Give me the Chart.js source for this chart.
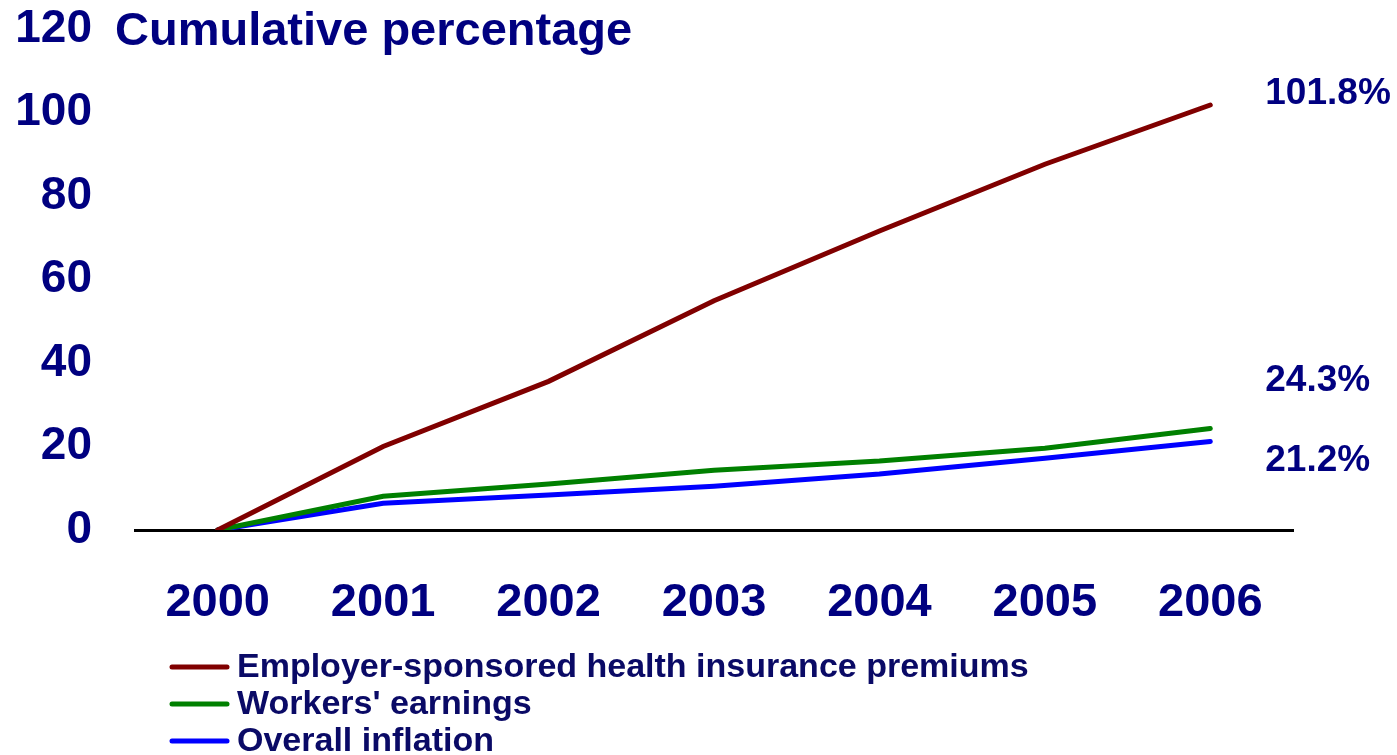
<!DOCTYPE html>
<html>
<head>
<meta charset="utf-8">
<script src="https://cdn.jsdelivr.net/npm/chart.js@4.4.0/dist/chart.umd.min.js"></script>
<style>
  html, body { margin: 0; padding: 0; background: #fff; }
  #wrap { width: 1397px; height: 755px; position: relative; }
</style>
</head>
<body>
<div id="wrap"><canvas id="myChart"></canvas></div>
<script>
// cumulative growth since 2000, in percent
const years = ['2000', '2001', '2002', '2003', '2004', '2005', '2006'];
const premiums = [0, 20.0, 35.6, 54.9, 71.6, 87.6, 101.8];
const earnings = [0, 8.1, 11.0, 14.3, 16.5, 19.6, 24.3];
const inflation = [0, 6.4, 8.4, 10.5, 13.4, 17.2, 21.2];
const yTicks = [0, 20, 40, 60, 80, 100, 120];
const seriesNames = ['Employer-sponsored health insurance premiums', "Workers' earnings", 'Overall inflation'];

const navy = '#000080';
const fontName = '"Liberation Sans", Arial, sans-serif';
const lineColors = ['#800000', '#008000', '#0000ff'];
// vertical nudge for the end-of-line value labels
const labelShift = [-11, -48, 19];

const extras = {
  id: 'extras',
  afterDraw(chart) {
    const ctx = chart.ctx;
    const xs = chart.scales.x;
    const ys = chart.scales.y;
    ctx.save();

    // heading next to the top tick
    ctx.fillStyle = navy;
    ctx.font = 'bold 47px ' + fontName;
    ctx.textAlign = 'left';
    ctx.textBaseline = 'middle';
    ctx.fillText('Cumulative percentage', 115, ys.getPixelForValue(120) + 3);

    // value at the last year of each series
    ctx.font = 'bold 37px ' + fontName;
    chart.data.datasets.forEach((ds, i) => {
      const last = ds.data.length - 1;
      const px = xs.getPixelForValue(last) + 55;
      const py = ys.getPixelForValue(ds.data[last]) + labelShift[i];
      ctx.fillText(ds.data[last].toFixed(1) + '%', px, py);
    });

    // legend stacked under the axis
    ctx.font = 'bold 34px ' + fontName;
    ctx.lineCap = 'round';
    chart.data.datasets.forEach((ds, i) => {
      const ly = 667 + i * 37;
      ctx.strokeStyle = ds.borderColor;
      ctx.lineWidth = 5;
      ctx.beginPath();
      ctx.moveTo(172, ly);
      ctx.lineTo(227, ly);
      ctx.stroke();
      ctx.fillStyle = '#0a0a66';
      ctx.fillText(ds.label, 237, ly + 1);
    });
    ctx.restore();
  }
};

function initChart() {
  const ctx = document.getElementById('myChart');
  const sets = [premiums, earnings, inflation];

  return new Chart(ctx, {
    type: 'line',
    data: {
      labels: years,
      datasets: sets.map((values, i) => ({
        label: seriesNames[i],
        data: values,
        borderColor: lineColors[i],
        borderWidth: 5,
        borderCapStyle: 'round',
        pointRadius: 0,
        tension: 0,
        fill: false
      }))
    },
    options: {
      responsive: true,
      maintainAspectRatio: false,
      animation: false,
      layout: { padding: { top: 29, right: 104, bottom: 0, left: 0 } },
      plugins: {
        legend: { display: false },
        tooltip: { enabled: false }
      },
      scales: {
        x: {
          offset: true,
          grid: { display: false, drawTicks: false },
          border: { display: true, color: '#000', width: 3 },
          ticks: {
            color: navy,
            padding: 45,
            font: { family: fontName, size: 47, weight: 'bold' }
          },
          afterFit(scale) {
            scale.height = 225;
            scale.paddingLeft = 0;
            scale.paddingRight = 0;
          }
        },
        y: {
          min: 0,
          max: 120,
          afterBuildTicks(scale) { scale.ticks = yTicks.map(v => ({ value: v })); },
          grid: { display: false, drawTicks: false },
          border: { display: false },
          ticks: {
            color: navy,
            padding: 43,
            font: { family: fontName, size: 46, weight: 'bold' }
          },
          afterFit(scale) {
            scale.width = 135;
            scale.paddingTop = 0;
            scale.paddingBottom = 0;
          }
        }
      }
    },
    plugins: [extras]
  });
}

document.addEventListener('DOMContentLoaded', () => initChart());
</script>
</body>
</html>
